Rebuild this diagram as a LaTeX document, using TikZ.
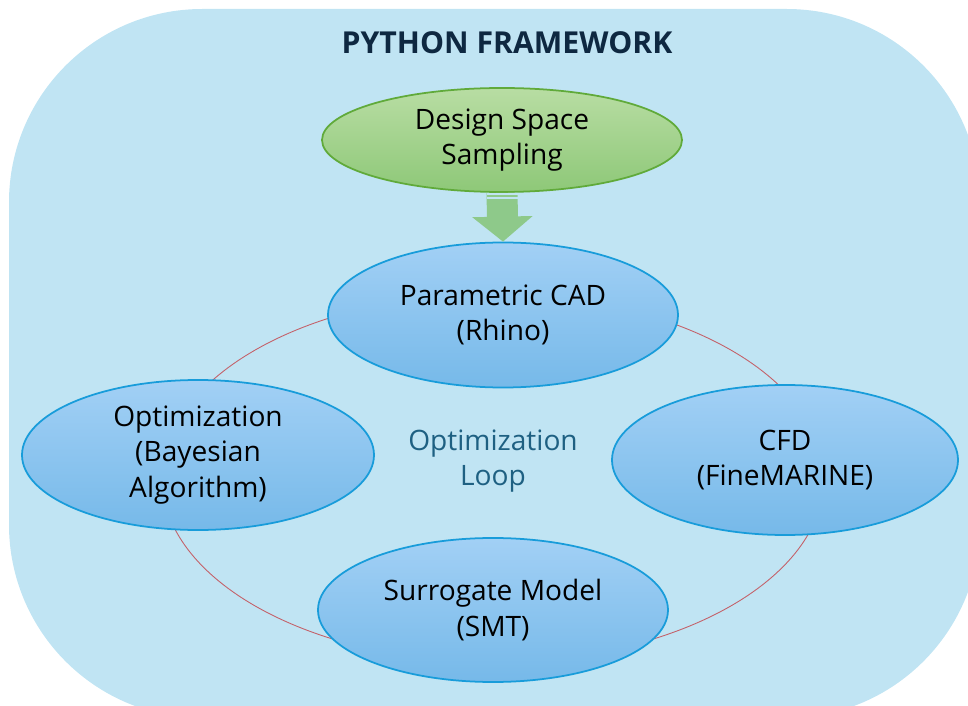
\documentclass[tikz,border=0pt]{standalone}
\usepackage{fontspec}
\setmainfont{Open Sans}
\usetikzlibrary{shapes.geometric,arrows.meta}
\definecolor{frameblue}{RGB}{192,228,243}
\definecolor{nodetop}{RGB}{162,208,245}
\definecolor{nodebot}{RGB}{118,185,233}
\definecolor{nodeline}{RGB}{24,156,218}
\definecolor{greentop}{RGB}{184,221,163}
\definecolor{greenbot}{RGB}{142,200,120}
\definecolor{greenline}{RGB}{96,170,58}
\definecolor{arrowgreen}{RGB}{142,201,138}
\definecolor{loopred}{RGB}{196,96,104}
\definecolor{titlenavy}{RGB}{14,40,65}
\definecolor{loopteal}{RGB}{30,96,130}
\tikzset{
  stage/.style={ellipse, draw=nodeline, line width=1pt, top color=nodetop,
    bottom color=nodebot, inner sep=0pt, align=center,
    font=\fontsize{16}{20}\selectfont},
  sampler/.style={stage, draw=greenline, top color=greentop, bottom color=greenbot}
}
\begin{document}
\begin{tikzpicture}[x=0.02cm, y=-0.02cm]
    \useasboundingbox (0,0) rectangle (968,706);
    \clip (0,0) rectangle (968,706);
    \fill[frameblue, rounded corners=110] (9,9) rectangle (980,718);
    \node[font=\bfseries\fontsize{17.2}{20}\selectfont, text=titlenavy] (title) at (507,43) {PYTHON FRAMEWORK};
    \node[text=loopteal, align=center, font=\fontsize{16}{20}\selectfont] (loop) at (493,461) {Optimization\\Loop};
    \draw[loopred, line width=0.5pt] (loop.center) ++(0,17) ellipse [x radius=331, y radius=184];
    \node[sampler, minimum width=360*0.02cm, minimum height=104*0.02cm] (sampling) at (502,140) {Design Space\\Sampling};
    \node[stage, minimum width=350*0.02cm, minimum height=145*0.02cm] (cad) at (503,315) {Parametric CAD\\(Rhino)};
    \node[stage, minimum width=352*0.02cm, minimum height=150*0.02cm] (opt) at (198,455) {Optimization\\(Bayesian\\Algorithm)};
    \node[stage, minimum width=346*0.02cm, minimum height=150*0.02cm] (cfd) at (785,460) {CFD\\(FineMARINE)};
    \node[stage, minimum width=350*0.02cm, minimum height=144*0.02cm] (smt) at (493,610) {Surrogate Model\\(SMT)};
    \draw[arrowgreen, line width=31*0.02cm, -{Triangle[width=59*0.02cm, length=25*0.02cm]}] (sampling.south) -- (cad.north);
    \foreach \y in {194,198}
      \draw[frameblue, line width=0.6pt] (487,\y) -- (519,\y);
\end{tikzpicture}
\end{document}
